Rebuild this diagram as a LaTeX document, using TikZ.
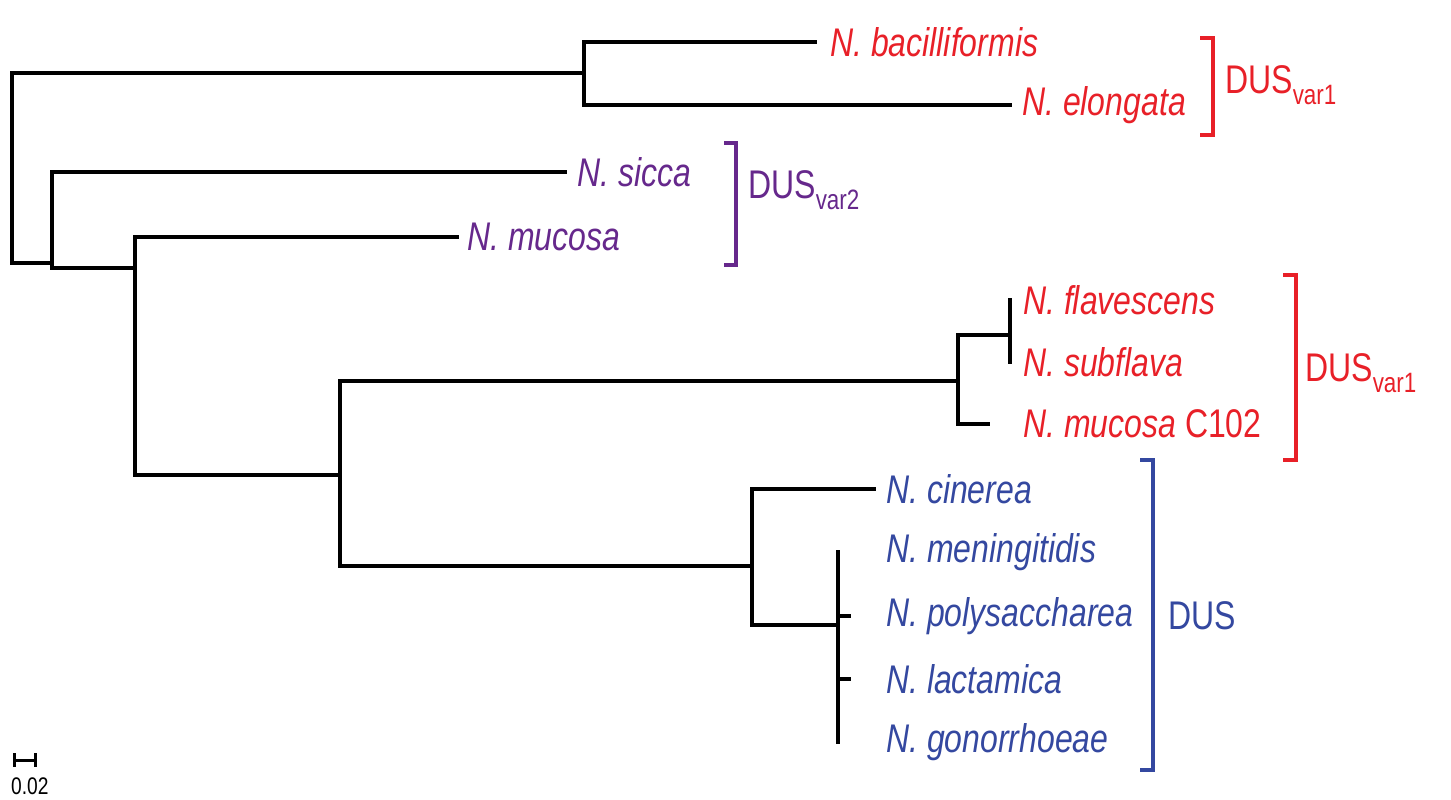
\documentclass[tikz,border=0pt]{standalone}
\usepackage{fontspec}
\setmainfont[FakeStretch=0.8]{Liberation Sans}
\definecolor{cred}{RGB}{232,32,40}
\definecolor{cpur}{RGB}{102,40,140}
\definecolor{cblue}{RGB}{52,72,160}
\begin{document}
\begin{tikzpicture}[x=1pt,y=-1pt,
  br/.style={line width=4pt,line cap=rect,line join=miter},
  bk/.style={line width=3.5pt,line join=miter},
  lf/.style={anchor=west,inner sep=0pt,font=\fontsize{40}{44}\selectfont\itshape},
  gl/.style={anchor=west,inner sep=0pt,font=\fontsize{40}{44}\selectfont}]
\useasboundingbox (0,0) rectangle (1451,800);
% leaves labels
\node[lf,text=cred] (bac) at (830,42) {N. bacilliformis};
\node[lf,text=cred] (elo) at (1022,105) {N. elongata};
\node[lf,text=cpur] (sic) at (577,172) {N. sicca};
\node[lf,text=cpur] (muc) at (467,237) {N. mucosa};
\node[lf,text=cred] (fla) at (1023,300) {N. flavescens};
\node[lf,text=cred] (sub) at (1023,362) {N. subflava};
\node[lf,text=cred] (c102) at (1023,424) {N. mucosa \upshape C102};
\node[lf,text=cblue] (cin) at (886,489) {N. cinerea};
\node[lf,text=cblue] (men) at (886,552) {N. meningitidis};
\node[lf,text=cblue] (pol) at (886,616) {N. polysaccharea};
\node[lf,text=cblue] (lac) at (886,679) {N. lactamica};
\node[lf,text=cblue] (gon) at (886,742) {N. gonorrhoeae};
% tree
\coordinate (r) at (12,263);
\draw[br] (584,73) -- (12,73) -- (12,263) -- (52,263);
\draw[br] (815,42) -- (584,42) -- (584,105) -- (1010,105);
\draw[br] (565,172) -- (52,172) -- (52,268) -- (135,268);
\draw[br] (457,237) -- (135,237) -- (135,475) -- (340,475);
\draw[br] (958,381) -- (340,381) -- (340,566) -- (752,566);
\draw[br] (1010,335) -- (958,335) -- (958,424) -- (988,424);
\draw[br] (1010,300) -- (1010,362);
\draw[br] (874,489) -- (752,489) -- (752,625) -- (838,625);
\draw[br] (838,552) -- (838,742);
\draw[br] (838,616) -- (849,616);
\draw[br] (838,679) -- (849,679);
% brackets
\draw[bk,cred] (1200,38) -- (1213,38) -- (1213,135) -- (1200,135);
\node[gl,text=cred] (g1) at (1225,85) {DUS\textsubscript{var1}};
\draw[bk,cpur] (724,143) -- (736,143) -- (736,265) -- (724,265);
\node[gl,text=cpur] (g2) at (748,190) {DUS\textsubscript{var2}};
\draw[bk,cred] (1283,275) -- (1296,275) -- (1296,460) -- (1283,460);
\node[gl,text=cred] (g3) at (1305,373) {DUS\textsubscript{var1}};
\draw[bk,cblue] (1140,460) -- (1153,460) -- (1153,770) -- (1140,770);
\node[gl,text=cblue] (g4) at (1168,616) {DUS};
% scale bar
\draw[line width=3pt] (14,760) -- (35,760);
\draw[line width=3pt] (14,753) -- (14,767) (35,753) -- (35,767);
\node[anchor=west,inner sep=0pt,font=\fontsize{24}{28}\selectfont] (sc) at (11,786) {0.02};
\end{tikzpicture}
\end{document}
